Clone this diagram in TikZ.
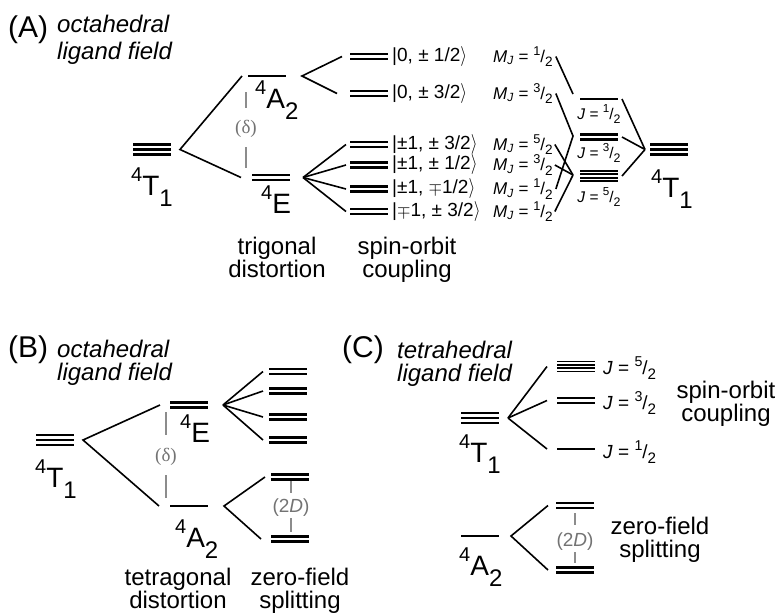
\documentclass[tikz,border=0pt]{standalone}
\usepackage{fontspec}
\usepackage{graphicx}
\setmainfont{Liberation Sans}
\newfontfamily\greekserif{Liberation Serif}

% term symbol: multiplicity, letter, subscript
\newcommand{\term}[3]{\raisebox{14pt}{\fontsize{20}{20}\selectfont #1}#2\raisebox{-11pt}{\fontsize{24}{24}\selectfont #3}}
% slashed half-integer
\newcommand{\slfrac}[2]{\raisebox{0.42em}{\scalebox{0.75}{#1}}/\raisebox{-0.25em}{\scalebox{0.8}{#2}}}
\newcommand{\mj}{\textit{M}\textsubscript{\textit{J}}}
\newcommand{\ketend}{\scalebox{1}[1.15]{$\rangle$}}

% a level of #4 degenerate lines: name, left x, centre y, count
\newcommand{\level}[4]{%
  \pgfmathsetmacro{\lvlsep}{#4>3 ? 3.3 : 5}
  \pgfmathsetmacro{\lvlw}{#4>3 ? 1.8 : 2.4}
  \foreach \k in {1,...,#4}
    \draw[line width=\lvlw pt] (#2, {#3+\lvlsep*(\k-1)-\lvlsep/2*(#4-1)}) -- ++(38,0);
  \coordinate (#1-l) at (#2,#3);
  \coordinate (#1-r) at ({#2+38},#3);
}

\begin{document}
\begin{tikzpicture}[x=1pt, y=-1pt, inner sep=0pt,
    link/.style={line width=1.6pt},
    bar/.style={line width=1.2pt, black!45},
    tag/.style={font=\fontsize{30}{30}\selectfont, anchor=base west},
    field/.style={font=\fontsize{24}{23}\selectfont\itshape, align=left, anchor=north west},
    term/.style={font=\fontsize{28}{28}\selectfont, anchor=base west},
    process/.style={font=\fontsize{24}{23.5}\selectfont, align=center, anchor=north},
    ket/.style={font=\fontsize{19}{19}\selectfont, anchor=west},
    mjlabel/.style={font=\fontsize{17}{17}\selectfont, anchor=west},
    jlabel/.style={font=\fontsize{15.5}{15.5}\selectfont},
    jside/.style={font=\fontsize{19}{19}\selectfont, anchor=west},
    gaplabel/.style={font=\fontsize{19}{19}\selectfont, text=black!55}]
  \useasboundingbox (0,0) rectangle (780,614);

  % ---- (A) octahedral, trigonal distortion + spin-orbit
  \node[tag] (tagA) at (8,37) {(A)};
  \node[field] (fieldA) at (57,14.5) {octahedral\\[4pt]ligand field};

  \level{T1a}{133}{149.5}{3}
  \level{A2a}{248}{76}{1}
  \level{Ea}{252}{177.5}{2}
  \level{K1}{350}{56.5}{2}
  \level{K2}{350}{93.5}{2}
  \level{K3}{350}{144.5}{2}
  \level{K4}{350}{165}{2}
  \level{K5}{350}{189}{2}
  \level{K6}{350}{211.5}{2}
  \level{J1}{580}{99}{1}
  \level{J3}{580}{137}{2}
  \level{J5}{580}{176}{4}
  \level{T1b}{650}{149.5}{3}

  \node[term] (t1a) at (131,195) {\term{4}{T}{1}};
  \node[term] (a2a) at (255,108) {\term{4}{A}{2}};
  \node[term] (ea) at (261,213) {\term{4}{E}{}};
  \node[term] (t1b) at (651,197) {\term{4}{T}{1}};

  \node[gaplabel] (dA) at (246,129) {\greekserif (δ)};
  \draw[bar] (246,92) -- (246,108);
  \draw[bar] (246,147) -- (246,168);

  \coordinate (fa1) at ([xshift=9pt]T1a-r);
  \draw[link] ([xshift=-6pt]A2a-l) -- (fa1) -- ([xshift=-11pt]Ea-l);
  \coordinate (fa2) at ([xshift=16pt]A2a-r);
  \draw[link] ([xshift=-8pt]K1-l) -- (fa2) -- ([xshift=-13pt]K2-l);
  \coordinate (fa3) at ([xshift=13pt]Ea-r);
  \foreach \n in {K3,K4,K5,K6}
    \draw[link] (fa3) -- ([xshift=-4pt]\n-l);

  \node[ket] (k1) at (392,56.5) {|0, ± 1/2\ketend};
  \node[ket] (k2) at (392,93.5) {|0, ± 3/2\ketend};
  \node[ket] (k3) at (392,144.5) {|±1, ± 3/2\ketend};
  \node[ket] (k4) at (392,165) {|±1, ± 1/2\ketend};
  \node[ket] (k5) at (392,189) {|±1, $\mp$1/2\ketend};
  \node[ket] (k6) at (392,211.5) {|$\mp$1, ± 3/2\ketend};

  \node[mjlabel] (m1) at (493,56.5) {\mj{} = \slfrac{1}{2}};
  \node[mjlabel] (m2) at (493,93.5) {\mj{} = \slfrac{3}{2}};
  \node[mjlabel] (m3) at (493,144.5) {\mj{} = \slfrac{5}{2}};
  \node[mjlabel] (m4) at (493,165) {\mj{} = \slfrac{3}{2}};
  \node[mjlabel] (m5) at (493,189) {\mj{} = \slfrac{1}{2}};
  \node[mjlabel] (m6) at (493,211.5) {\mj{} = \slfrac{1}{2}};

  \node[jlabel] (j1) at (599,114) {\textit{J} = \slfrac{1}{2}};
  \node[jlabel] (j3) at (599,153) {\textit{J} = \slfrac{3}{2}};
  \node[jlabel] (j5) at (599,197) {\textit{J} = \slfrac{5}{2}};

  \coordinate (mix3) at (573,136);
  \coordinate (mix5) at (573,175);
  \coordinate (back) at ([xshift=-5pt]T1b-l);
  \draw[link] ([xshift=3pt]m1.east) -- ([shift={(-7pt,5pt)}]J1-l);
  \draw[link] ([xshift=3pt]m2.east) -- (mix3) -- ([xshift=3pt]m5.east);
  \foreach \m in {m3,m4,m6}
    \draw[link] ([xshift=2pt]\m.east) -- (mix5);
  \foreach \n in {J1,J3,J5}
    \draw[link] ([xshift=4pt]\n-r) -- (back);

  \node[process] (trigA) at (277,236.5) {trigonal\\distortion};
  \node[process] (soA) at (407,236.5) {spin-orbit\\coupling};

  % ---- (B) octahedral, tetragonal distortion + zero-field splitting
  \node[tag] (tagB) at (8,357) {(B)};
  \node[field] (fieldB) at (57,339.5) {octahedral\\ligand field};

  \level{T1B}{36}{440}{3}
  \level{EB}{170}{405}{2}
  \level{A2B}{170}{506}{1}
  \level{SB1}{269}{371.5}{2}
  \level{SB2}{269}{391}{2}
  \level{SB3}{269}{417}{2}
  \level{SB4}{269}{440}{2}
  \level{ZB1}{271}{477}{2}
  \level{ZB2}{271}{539}{2}

  \node[term] (t1B) at (35,487) {\term{4}{T}{1}};
  \node[term] (eB) at (180,442) {\term{4}{E}{}};
  \node[term] (a2B) at (175,547) {\term{4}{A}{2}};

  \node[gaplabel] (dB) at (166,457) {\greekserif (δ)};
  \draw[bar] (166,412) -- (166,435);
  \draw[bar] (166,475) -- (166,498);
  \node[gaplabel] (zB) at (291,508) {(2\textit{D})};
  \draw[bar] (291,481) -- (291,493);
  \draw[bar] (291,518) -- (291,532);

  \coordinate (fb1) at ([xshift=9pt]T1B-r);
  \draw[link] ([xshift=-10pt]EB-l) -- (fb1) -- ([xshift=-11pt]A2B-l);
  \coordinate (fb2) at ([xshift=15pt]EB-r);
  \foreach \n in {SB1,SB2,SB3,SB4}
    \draw[link] (fb2) -- ([xshift=-6pt]\n-l);
  \coordinate (fb3) at ([xshift=16pt]A2B-r);
  \draw[link] ([xshift=-6pt]ZB1-l) -- (fb3) -- ([xshift=-10pt]ZB2-l);

  \node[process] (tetB) at (178,567.5) {tetragonal\\distortion};
  \node[process] (zfsB) at (300,567.5) {zero-field\\splitting};

  % ---- (C) tetrahedral
  \node[tag] (tagC) at (342,357) {(C)};
  \node[field] (fieldC) at (397,340.5) {tetrahedral\\ligand field};

  \level{T1C}{461}{418}{3}
  \level{J5C}{557}{366.5}{4}
  \level{J3C}{557}{400.5}{2}
  \level{J1C}{557}{449}{1}
  \level{A2C}{461}{536}{1}
  \level{ZC1}{556}{505.5}{2}
  \level{ZC2}{556}{570}{2}

  \node[term] (t1C) at (459,462) {\term{4}{T}{1}};
  \node[term] (a2C) at (459,575) {\term{4}{A}{2}};

  \node[jside] (j5C) at (603,368) {\textit{J} = \slfrac{5}{2}};
  \node[jside] (j3C) at (603,403) {\textit{J} = \slfrac{3}{2}};
  \node[jside] (j1C) at (603,452) {\textit{J} = \slfrac{1}{2}};

  \node[gaplabel] (zC) at (575,542) {(2\textit{D})};
  \draw[bar] (575,513) -- (575,525);
  \draw[bar] (575,552) -- (575,563);

  \coordinate (fc1) at ([xshift=9pt]T1C-r);
  \foreach \n in {J5C,J3C,J1C}
    \draw[link] (fc1) -- ([xshift=-10pt]\n-l);
  \coordinate (fc2) at ([xshift=12pt]A2C-r);
  \draw[link] ([xshift=-8pt]ZC1-l) -- (fc2) -- ([xshift=-8pt]ZC2-l);

  \node[process] (soC) at (726,380.5) {spin-orbit\\coupling};
  \node[process] (zfsC) at (660,516.5) {zero-field\\splitting};
\end{tikzpicture}
\end{document}
